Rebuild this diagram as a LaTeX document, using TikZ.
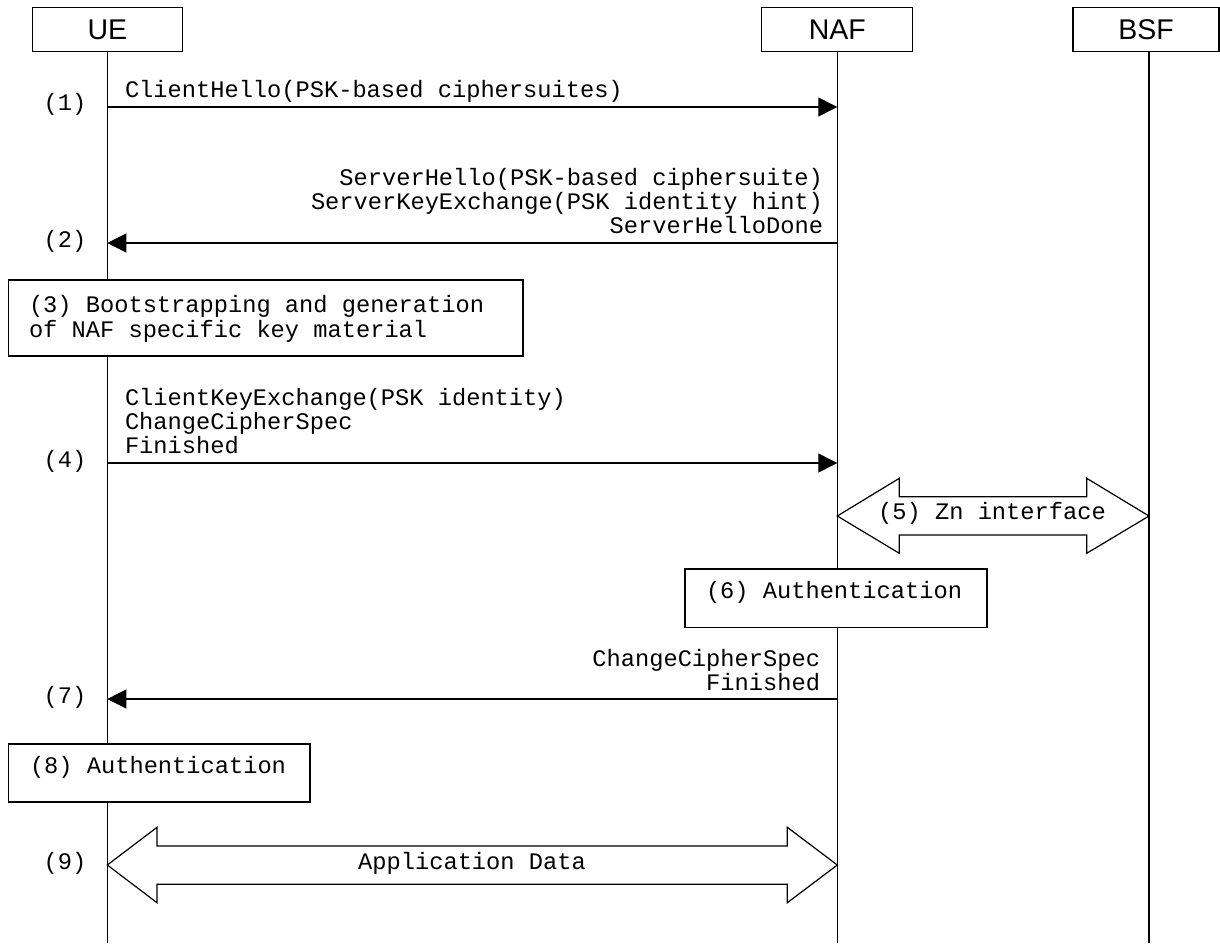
\documentclass[tikz,border=0pt]{standalone}
\usepackage{fontspec}
\newfontfamily\monof{Liberation Mono}
\newfontfamily\sansf{Liberation Sans}
\usetikzlibrary{arrows.meta}
\begin{document}
\begin{tikzpicture}[x=1pt,y=-1pt,
  every node/.style={inner sep=0pt, outer sep=0pt},
  msg/.style={font=\monof\fontsize{23.7}{24}\selectfont},
  hdr/.style={draw, line width=1.2pt, minimum height=44.4pt, font=\sansf\fontsize{28.5}{30}\selectfont},
  life/.style={line width=1.2pt},
  arr/.style={line width=1.2pt, -{Triangle[length=19pt,width=19pt]}},
  proc/.style={draw, fill=white, line width=1.2pt, anchor=north west},
  blk/.style={draw, fill=white, line width=1.2pt, line join=miter}]
\useasboundingbox (0,0) rectangle (1220,943);
% headers
\node[hdr, minimum width=150pt] (UE) at (107.3,29.5) {UE};
\node[hdr, minimum width=151pt] (NAF) at (837.3,29.5) {NAF};
\node[hdr, minimum width=146pt] (BSF) at (1146,29.5) {BSF};
% lifeline ends
\coordinate (UEend) at (107.3,943);
\coordinate (NAFend) at (837.3,943);
\coordinate (BSFend) at (1149,943);
\draw[life] (UE.south) -- (UEend);
\draw[life] (NAF.south) -- (NAFend);
\draw[life] (1149,51.7) coordinate (BSFtop) -- (BSFend);
% (1)
\coordinate (u1) at (107.3,107);
\coordinate (n1) at (837.3,107);
\draw[arr] (u1) -- (n1);
\node[msg, anchor=base] (s1) at (65,110) {(1)};
\node[msg, anchor=base west] (t1) at (125,97) {ClientHello(PSK-based ciphersuites)};
% (2)
\coordinate (u2) at (107.3,243);
\coordinate (n2) at (837.3,243);
\draw[arr] (n2) -- (u2);
\node[msg, anchor=base] (s2) at (65,247) {(2)};
\node[msg, anchor=base east] (t2a) at (823,185) {ServerHello(PSK-based ciphersuite)};
\node[msg, anchor=base east] (t2b) at (823,209) {ServerKeyExchange(PSK identity hint)};
\node[msg, anchor=base east] (t2c) at (823,233) {ServerHelloDone};
% (3)
\node[proc, minimum width=514.4pt, minimum height=76pt] (b3) at (8.6,280) {};
\node[msg, anchor=base west] (t3a) at (29,312) {(3) Bootstrapping and generation};
\node[msg, anchor=base west] (t3b) at (29,337) {of NAF specific key material};
% (4)
\coordinate (u4) at (107.3,463);
\coordinate (n4) at (837.3,463);
\draw[arr] (u4) -- (n4);
\node[msg, anchor=base] (s4) at (65,467) {(4)};
\node[msg, anchor=base west] (t4a) at (125,405) {ClientKeyExchange(PSK identity)};
\node[msg, anchor=base west] (t4b) at (125,429) {ChangeCipherSpec};
\node[msg, anchor=base west] (t4c) at (125,453) {Finished};
% (5) Zn interface
\coordinate (z1) at (837.3,516);
\coordinate (z2) at (1149,516);
\draw[blk] (z1) -- (899.3,478.3) -- (899.3,496.7) -- (1086.7,496.7) -- (1086.7,478.3)
  -- (z2) -- (1086.7,553.3) -- (1086.7,535) -- (899.3,535) -- (899.3,553.3) -- cycle;
\node[msg, anchor=base] (t5) at (992,519) {(5) Zn interface};
% (6)
\node[proc, minimum width=302pt, minimum height=58.7pt] (b6) at (685,569) {};
\node[msg, anchor=base west] (t6) at (706,598) {(6) Authentication};
% (7)
\coordinate (u7) at (107.3,699);
\coordinate (n7) at (837.3,699);
\draw[arr] (n7) -- (u7);
\node[msg, anchor=base] (s7) at (65,703) {(7)};
\node[msg, anchor=base east] (t7a) at (820,666) {ChangeCipherSpec};
\node[msg, anchor=base east] (t7b) at (820,690) {Finished};
% (8)
\node[proc, minimum width=301.4pt, minimum height=58pt] (b8) at (8.6,744) {};
\node[msg, anchor=base west] (t8) at (30,773) {(8) Authentication};
% (9)
\coordinate (a1) at (107.3,865);
\coordinate (a2) at (837.3,865);
\draw[blk] (a1) -- (157,827.3) -- (157,846) -- (787.3,846) -- (787.3,827.3)
  -- (a2) -- (787.3,902.7) -- (787.3,884.3) -- (157,884.3) -- (157,902.7) -- cycle;
\node[msg, anchor=base] (s9) at (65,869) {(9)};
\node[msg, anchor=base] (t9) at (472,869) {Application Data};
\end{tikzpicture}
\end{document}
